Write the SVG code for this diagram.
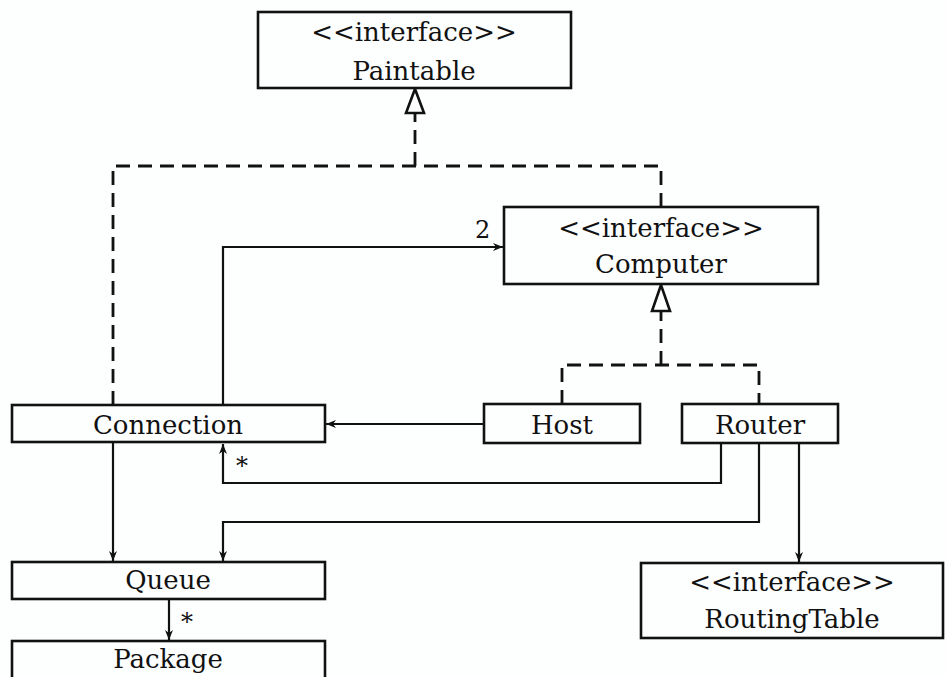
<svg xmlns="http://www.w3.org/2000/svg" width="946" height="677" viewBox="0 0 946 677">
  <defs>
    <marker id="arrow" viewBox="0 0 10 10" refX="10" refY="5" markerWidth="10" markerHeight="10" markerUnits="userSpaceOnUse" orient="auto">
      <path d="M0,1 L10,5 L0,9 L3,5 Z" fill="#111"/>
    </marker>
  </defs>
  <style>
    .box { fill: #fdfefe; stroke: #111; stroke-width: 2.6; }
    .txt { font-family: "DejaVu Serif", "Liberation Serif", serif; font-size: 26px; fill: #111; text-anchor: middle; }
    .lbl { font-family: "DejaVu Serif", "Liberation Serif", serif; font-size: 24px; fill: #111; }
    .solid { fill: none; stroke: #111; stroke-width: 2.2; }
    .dashed { fill: none; stroke: #111; stroke-width: 2.8; stroke-dasharray: 14 8; }
    .tri { fill: #fdfefe; stroke: #111; stroke-width: 2.6; stroke-linejoin: miter; }
  </style>
  <rect width="946" height="677" fill="#fdfefe"/>

  <!-- connectors -->
  <g id="connectors">
    <!-- realisations of Paintable -->
    <path class="dashed" d="M113,405 V166 H661 V207"/>
    <path class="dashed" d="M415,166 V113"/>
    <polygon class="tri" points="415,89 406,113 424,113"/>
    <!-- realisations of Computer -->
    <path class="dashed" d="M562,404 V365 H759 V404"/>
    <path class="dashed" d="M661,365 V311"/>
    <polygon class="tri" points="661,285 652,311 670,311"/>
    <!-- associations -->
    <path class="solid" d="M223,405 V247 H503" marker-end="url(#arrow)"/>
    <path class="solid" d="M484,424 H326" marker-end="url(#arrow)"/>
    <path class="solid" d="M721,443 V483 H223 V444" marker-end="url(#arrow)"/>
    <path class="solid" d="M759,443 V522 H223 V561" marker-end="url(#arrow)"/>
    <path class="solid" d="M113,442 V561" marker-end="url(#arrow)"/>
    <path class="solid" d="M799,443 V562" marker-end="url(#arrow)"/>
    <path class="solid" d="M169,599 V640" marker-end="url(#arrow)"/>
    <text class="lbl" x="475" y="238">2</text>
    <text class="lbl" x="236" y="474">*</text>
    <text class="lbl" x="181" y="630">*</text>
  </g>

  <g id="paintable">
    <rect class="box" x="258" y="12" width="313" height="76"/>
    <text class="txt" x="414" y="41">&lt;&lt;interface&gt;&gt;</text>
    <text class="txt" x="414" y="80">Paintable</text>
  </g>

  <g id="computer">
    <rect class="box" x="504" y="207" width="314" height="77"/>
    <text class="txt" x="661" y="237">&lt;&lt;interface&gt;&gt;</text>
    <text class="txt" x="661" y="273">Computer</text>
  </g>

  <g id="connection">
    <rect class="box" x="12" y="405" width="313" height="37"/>
    <text class="txt" x="168" y="434">Connection</text>
  </g>

  <g id="host">
    <rect class="box" x="484" y="404" width="156" height="39"/>
    <text class="txt" x="562" y="434">Host</text>
  </g>

  <g id="router">
    <rect class="box" x="682" y="404" width="156" height="39"/>
    <text class="txt" x="760" y="434">Router</text>
  </g>

  <g id="queue">
    <rect class="box" x="12" y="562" width="313" height="37"/>
    <text class="txt" x="168" y="589">Queue</text>
  </g>

  <g id="package">
    <rect class="box" x="12" y="641" width="313" height="50"/>
    <text class="txt" x="168" y="668">Package</text>
  </g>

  <g id="routingtable">
    <rect class="box" x="641" y="563" width="302" height="75"/>
    <text class="txt" x="792" y="591">&lt;&lt;interface&gt;&gt;</text>
    <text class="txt" x="792" y="628">RoutingTable</text>
  </g>
</svg>
